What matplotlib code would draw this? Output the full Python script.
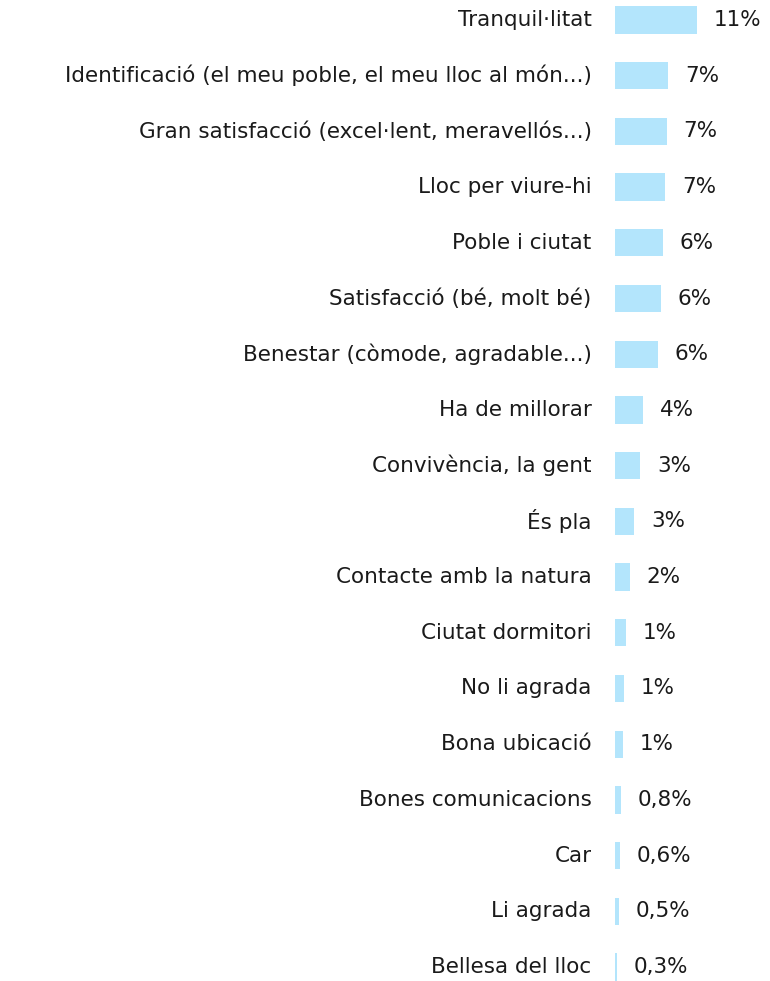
import matplotlib
matplotlib.use('Agg')
import numpy as np
import matplotlib.pyplot as plt

# categories, top to bottom
categories = [
    'Tranquil·litat',
    'Identificació (el meu poble, el meu lloc al món...)',
    'Gran satisfacció (excel·lent, meravellós...)',
    'Lloc per viure-hi',
    'Poble i ciutat',
    'Satisfacció (bé, molt bé)',
    'Benestar (còmode, agradable...)',
    'Ha de millorar',
    'Convivència, la gent',
    'És pla',
    'Contacte amb la natura',
    'Ciutat dormitori',
    'No li agrada',
    'Bona ubicació',
    'Bones comunicacions',
    'Car',
    'Li agrada',
    'Bellesa del lloc',
]
# percentages
values = [11.0, 7.2, 7.0, 6.8, 6.5, 6.2, 5.8, 3.8, 3.4, 2.6, 2.0,
          1.4, 1.2, 1.1, 0.8, 0.6, 0.5, 0.3]
value_labels = ['11%', '7%', '7%', '7%', '6%', '6%', '6%', '4%', '3%', '3%',
                '2%', '1%', '1%', '1%', '0,8%', '0,6%', '0,5%', '0,3%']

plt.rcParams['font.family'] = ['DejaVu Sans']

fig = plt.figure(figsize=(7.7, 9.81), dpi=100)
ax = fig.add_axes([0.799, 0.0, 0.192, 1.0])

y = np.arange(len(categories))
ax.barh(y, values, height=0.49, color='#b3e5fc')

# value labels to the right of each bar
for yi, v, lab in zip(y, values, value_labels):
    ax.annotate(lab, (v, yi), xytext=(12, 0), textcoords='offset points',
                ha='left', va='center', fontsize=15.5, color='#1a1a1a')

ax.set_yticks(y)
ax.set_yticklabels(categories, fontsize=15.5, color='#1a1a1a', va='center')
ax.tick_params(axis='y', length=0, pad=17)
ax.set_xticks([])
ax.set_xlim(0, 20)
# first row centre ~20px from the top, last ~967px
ax.set_ylim(17.251, -0.359)
for side in ax.spines.values():
    side.set_visible(False)

fig.savefig('out.png', dpi=100)
